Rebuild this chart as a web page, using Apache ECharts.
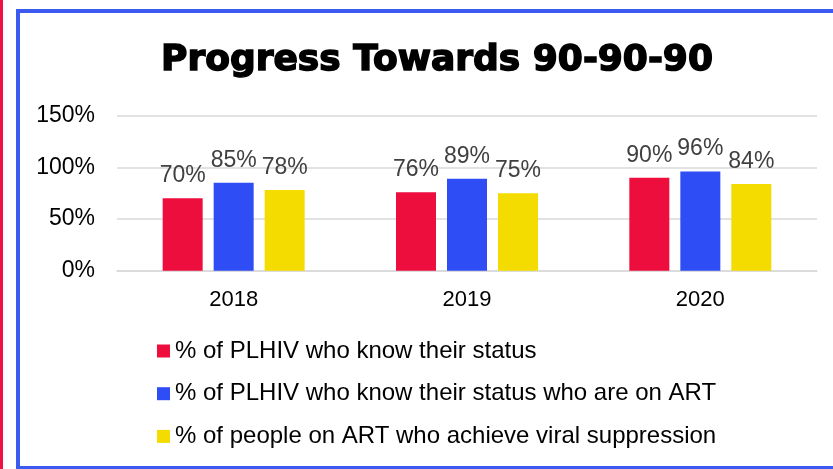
<!DOCTYPE html>
<html>
<head>
<meta charset="utf-8">
<style>
  html, body { margin: 0; padding: 0; background: #ffffff; }
  #chart { width: 833px; height: 469px; }
</style>
<script src="https://cdn.jsdelivr.net/npm/echarts@6/dist/echarts.min.js"></script>
</head>
<body>
<div id="chart"></div>
<script>
// Years on the category axis
const years = ['2018', '2019', '2020'];

// Series names and values (percent)
const seriesNames = [
  '% of PLHIV who know their status',
  '% of PLHIV who know their status who are on ART',
  '% of people on ART who achieve viral suppression'
];
const knowStatus = [70, 76, 90];
const onART = [85, 89, 96];
const viralSuppression = [78, 75, 84];

// Value axis ticks
const yMin = 0;
const yMax = 150;
const yStep = 50;

const colors = ['#ee0e3e', '#2e4df5', '#f5dc00'];
const font = '"Liberation Sans", Arial, sans-serif';
const titleFont = '"DejaVu Sans", "Liberation Sans", sans-serif';

const chart = echarts.init(document.getElementById('chart'), null, { renderer: 'canvas' });

function barSeries(name, data, color) {
  return {
    name: name,
    type: 'bar',
    data: data,
    barWidth: 40,
    barGap: '27.5%',
    itemStyle: { color: color },
    label: {
      show: true,
      position: 'top',
      distance: 11,
      formatter: '{c}%',
      fontFamily: font,
      fontSize: 23,
      color: '#404040'
    }
  };
}

chart.setOption({
  animation: false,
  backgroundColor: '#ffffff',
  title: {
    text: 'Progress Towards 90-90-90',
    left: 432,
    top: 38,
    textAlign: 'center',
    textStyle: {
      fontFamily: titleFont,
      fontSize: 36,
      fontWeight: 'bold',
      color: '#000000',
      textBorderColor: '#000000',
      textBorderWidth: 1.5
    }
  },
  graphic: [
    {
      type: 'rect',
      shape: { x: 0, y: -5, width: 3, height: 480 },
      style: { fill: '#ee1148' },
      silent: true
    },
    {
      type: 'rect',
      shape: { x: 18, y: 11, width: 900, height: 457 },
      style: { fill: 'none', stroke: '#3a5af0', lineWidth: 4 },
      silent: true
    }
  ],
  legend: {
    orient: 'vertical',
    left: 157,
    top: 339,
    padding: 0,
    itemWidth: 13,
    itemHeight: 13,
    itemGap: 18.7,
    icon: 'rect',
    textStyle: {
      fontFamily: font,
      fontSize: 24,
      lineHeight: 24,
      color: '#000000',
      padding: [0, 0, 0, 0]
    },
    data: seriesNames
  },
  grid: {
    left: 117,
    right: 16,
    top: 115.7,
    bottom: 198.3,
    containLabel: false
  },
  xAxis: {
    type: 'category',
    data: years,
    axisLine: { show: true, lineStyle: { color: '#d9d9d9', width: 1.5 } },
    axisTick: { show: false },
    axisLabel: {
      fontFamily: font,
      fontSize: 22,
      color: '#000000',
      margin: 18
    }
  },
  yAxis: {
    type: 'value',
    min: yMin,
    max: yMax,
    interval: yStep,
    axisLine: { show: false },
    axisTick: { show: false },
    splitLine: { lineStyle: { color: '#d9d9d9', width: 1.5 } },
    axisLabel: {
      formatter: '{value}%',
      fontFamily: font,
      fontSize: 23,
      color: '#000000',
      margin: 22
    }
  },
  series: [
    barSeries(seriesNames[0], knowStatus, colors[0]),
    barSeries(seriesNames[1], onART, colors[1]),
    barSeries(seriesNames[2], viralSuppression, colors[2])
  ]
});
</script>
</body>
</html>
